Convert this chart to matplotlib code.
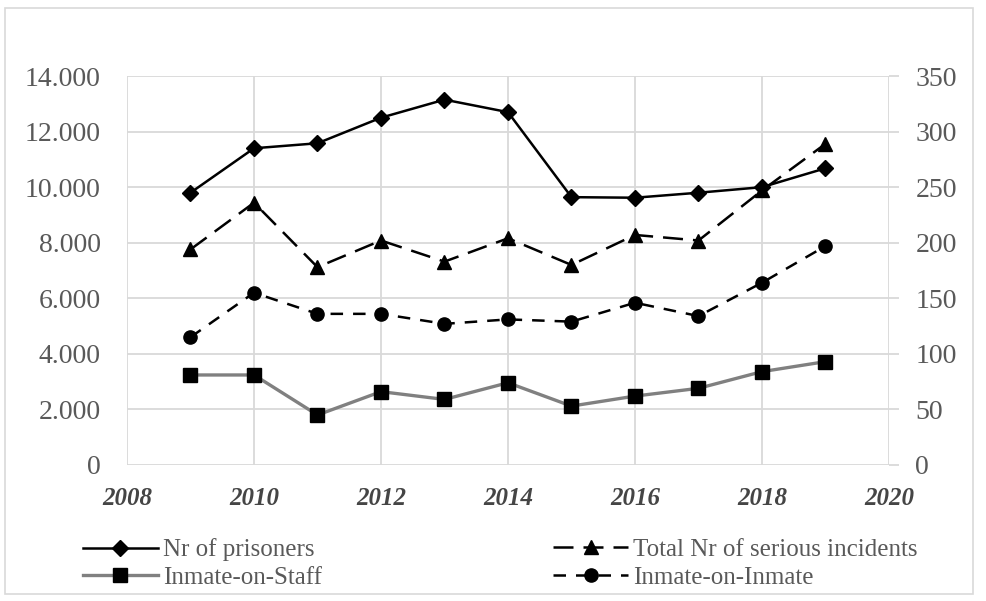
import matplotlib
matplotlib.use("Agg")
import matplotlib.pyplot as plt
from matplotlib.patches import Rectangle

years = [2009, 2010, 2011, 2012, 2013, 2014, 2015, 2016, 2017, 2018, 2019]
prisoners = [9800, 11400, 11580, 12500, 13150, 12700, 9640, 9620, 9800, 10000, 10680]
total_incidents = [194, 236, 178, 202, 183, 204, 180, 207, 202, 247, 289]
inmate_on_inmate = [115, 155, 136, 136, 127, 131, 129, 146, 134, 164, 197]
inmate_on_staff = [81, 81, 45, 66, 59, 74, 53, 62, 69, 84, 93]

left_ticks = [0, 2000, 4000, 6000, 8000, 10000, 12000, 14000]
left_labels = ["0", "2.000", "4.000", "6.000", "8.000", "10.000", "12.000", "14.000"]
right_ticks = [0, 50, 100, 150, 200, 250, 300, 350]
x_ticks = [2008, 2010, 2012, 2014, 2016, 2018, 2020]

plt.rcParams["font.family"] = ["Liberation Serif", "DejaVu Serif"]
grid_c = "#d9d9d9"
txt_c = "#595959"

fig = plt.figure(figsize=(9.86, 6.01), dpi=100)
ax = fig.add_axes([0.1288, 0.2263, 0.7728, 0.6472])
ax2 = ax.twinx()

ax.set_xlim(2008, 2020)
ax.set_ylim(0, 14000)
ax2.set_ylim(0, 350)
ax.set_xticks(x_ticks)
ax.set_yticks(left_ticks)
ax.set_yticklabels(left_labels)
ax2.set_yticks(right_ticks)

ax.grid(True, color=grid_c, linewidth=1.3)
ax.set_axisbelow(True)
for a in (ax, ax2):
    for s in a.spines.values():
        s.set_visible(False)

ax.tick_params(axis="y", length=0, pad=19, labelsize=20, labelcolor=txt_c)
ax.tick_params(axis="x", length=0, pad=16, labelsize=18, labelcolor="#454545")
for lab in ax.get_xticklabels():
    lab.set_fontweight("bold")
    lab.set_fontstyle("italic")
ax2.tick_params(axis="y", length=7, width=1.3, color=grid_c, pad=12, labelsize=20, labelcolor=txt_c)

l1, = ax.plot(years, prisoners, "-", color="black", lw=1.8, marker="D", ms=8,
              label="Nr of prisoners")
l2, = ax2.plot(years, total_incidents, color="black", lw=1.8, dashes=(8, 4), marker="^", ms=10,
               label="Total Nr of serious incidents")
l3, = ax2.plot(years, inmate_on_staff, "-", color="#808080", lw=2.4, marker="s", ms=10.5,
               mfc="black", mec="black", label="Inmate-on-Staff")
l4, = ax2.plot(years, inmate_on_inmate, color="black", lw=1.8, dashes=(5, 4), marker="o", ms=9.5,
               label="Inmate-on-Inmate")

leg_kw = dict(frameon=False, fontsize=18, handlelength=3.0, handletextpad=0.2,
              labelspacing=0.2, borderpad=0, borderaxespad=0, labelcolor=txt_c, loc="center left")
fig.legend(handles=[l1, l3], bbox_to_anchor=(0.084, 0.062), **leg_kw)
fig.legend(handles=[l2, l4], bbox_to_anchor=(0.561, 0.062), **leg_kw)

fig.patches.append(Rectangle((0.005, 0.012), 0.982, 0.974, transform=fig.transFigure,
                             fill=False, edgecolor=grid_c, linewidth=1.2))

fig.savefig("out.png", dpi=100)
